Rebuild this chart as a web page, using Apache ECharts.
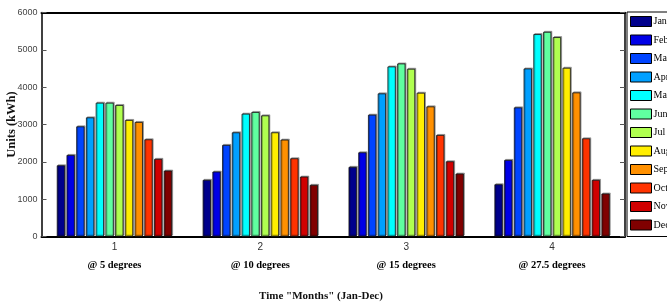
<!DOCTYPE html>
<html>
<head>
<meta charset="utf-8">
<script src="https://cdn.jsdelivr.net/npm/echarts@6/dist/echarts.min.js"></script>
<style>
  html, body { margin: 0; padding: 0; background: #fff; }
  #chart { width: 667px; height: 305px; }
</style>
</head>
<body>
<div id="chart"></div>
<script>
// categories (tilt angle groups) and months
const groupNumbers = ['1', '2', '3', '4'];
const groupNames = ['@ 5 degrees', '@ 10 degrees', '@ 15 degrees', '@ 27.5 degrees'];
const months = ['Jan', 'Feb', 'Mar', 'Apr', 'May', 'Jun', 'Jul', 'Aug', 'Sep', 'Oct', 'Nov', 'Dec'];

// monthly units (kWh), one array per tilt angle
const at5deg = [1906, 2184, 2949, 3190, 3583, 3583, 3521, 3120, 3067, 2602, 2078, 1765];
const at10deg = [1516, 1738, 2452, 2789, 3289, 3334, 3243, 2789, 2594, 2094, 1604, 1382];
const at15deg = [1864, 2254, 3262, 3832, 4554, 4634, 4492, 3850, 3484, 2719, 2013, 1684];
const at27deg = [1398, 2050, 3457, 4500, 5420, 5481, 5340, 4519, 3858, 2628, 1516, 1150];

const yTicks = [0, 1000, 2000, 3000, 4000, 5000, 6000];

// jet-like colours, one per month
const monthColors = ['#00008c', '#0000e6', '#0044ff', '#00a0ff', '#00ffff', '#60ffa0',
  '#b0ff50', '#ffee00', '#ff9000', '#ff3300', '#d00000', '#800000'];

const groups = [at5deg, at10deg, at15deg, at27deg];

const chart = echarts.init(document.getElementById('chart'));

const series = months.map((m, i) => ({
  name: m,
  type: 'bar',
  data: groups.map(g => g[i]),
  barGap: '18%',
  barCategoryGap: '21%',
  itemStyle: {
    color: monthColors[i],
    borderColor: '#111',
    borderWidth: 0.8,
    shadowColor: 'rgba(0,0,0,0.35)',
    shadowOffsetX: 1,
    shadowOffsetY: -1,
    shadowBlur: 0
  }
}));

const tickFont = "'Liberation Sans Narrow', 'Liberation Sans', Arial, sans-serif";
const serifFont = "'Liberation Serif', 'Times New Roman', serif";

const option = {
  animation: false,
  grid: { left: 41.5, right: 42, top: 12.5, bottom: 68.5, containLabel: false, outerBoundsMode: 'none' },
  legend: {
    orient: 'vertical',
    left: 627,
    top: 12,
    padding: [4, 0, 6, 3],
    icon: 'rect',
    itemWidth: 21,
    itemHeight: 10,
    itemGap: 7.5,
    borderColor: '#000',
    borderWidth: 1,
    itemStyle: { borderColor: '#000', borderWidth: 1, shadowBlur: 0, shadowOffsetX: 0, shadowOffsetY: 0 },
    textStyle: { fontFamily: serifFont, fontSize: 10, color: '#000', padding: [0, 0, 0, -3], lineHeight: 10, overflow: 'none' },
    data: months
  },
  title: {
    text: 'Time "Months" (Jan-Dec)',
    left: 316,
    top: 286,
    textAlign: 'center',
    textStyle: { fontFamily: serifFont, fontSize: 11, fontWeight: 'bold', color: '#111' }
  },
  xAxis: [
    {
      type: 'category',
      data: groupNumbers,
      axisLine: { onZero: false, lineStyle: { color: '#000', width: 2 } },
      axisTick: { inside: true, length: 10, alignWithLabel: true, lineStyle: { color: '#444' } },
      axisLabel: {
        margin: 5,
        formatter: (v, idx) => '{n|' + v + '}\n{d|' + groupNames[idx] + '}',
        rich: {
          n: { fontFamily: tickFont, fontSize: 10, color: '#333', lineHeight: 12 },
          d: { fontFamily: serifFont, fontSize: 10.5, fontWeight: 'bold', color: '#000', lineHeight: 24 }
        }
      }
    },
    {
      type: 'category',
      position: 'top',
      data: groupNumbers,
      axisLine: { onZero: false, lineStyle: { color: '#000', width: 2 } },
      axisTick: { inside: true, length: 10, alignWithLabel: true, lineStyle: { color: '#444' } },
      axisLabel: { show: false }
    }
  ],
  yAxis: [
    {
      type: 'value',
      min: yTicks[0],
      max: yTicks[yTicks.length - 1],
      interval: 1000,
      name: 'Units (kWh)',
      nameLocation: 'middle',
      nameGap: 23,
      nameMoveOverlap: false,
      nameTextStyle: { fontFamily: serifFont, fontSize: 12.5, fontWeight: 'bold', color: '#111' },
      axisLine: { show: true, onZero: false, lineStyle: { color: '#000', width: 1.5 } },
      axisTick: { show: true, inside: true, length: 5, lineStyle: { color: '#555' } },
      splitLine: { show: false },
      axisLabel: { margin: 4, fontFamily: tickFont, fontSize: 9, color: '#444', formatter: v => String(v) }
    },
    {
      type: 'value',
      position: 'right',
      min: yTicks[0],
      max: yTicks[yTicks.length - 1],
      interval: 1000,
      axisLine: { show: true, onZero: false, lineStyle: { color: '#000', width: 1.5 } },
      axisTick: { show: true, inside: true, length: 5, lineStyle: { color: '#555' } },
      splitLine: { show: false },
      axisLabel: { show: false }
    }
  ],
  series: series
};

chart.setOption(option);
</script>
</body>
</html>
